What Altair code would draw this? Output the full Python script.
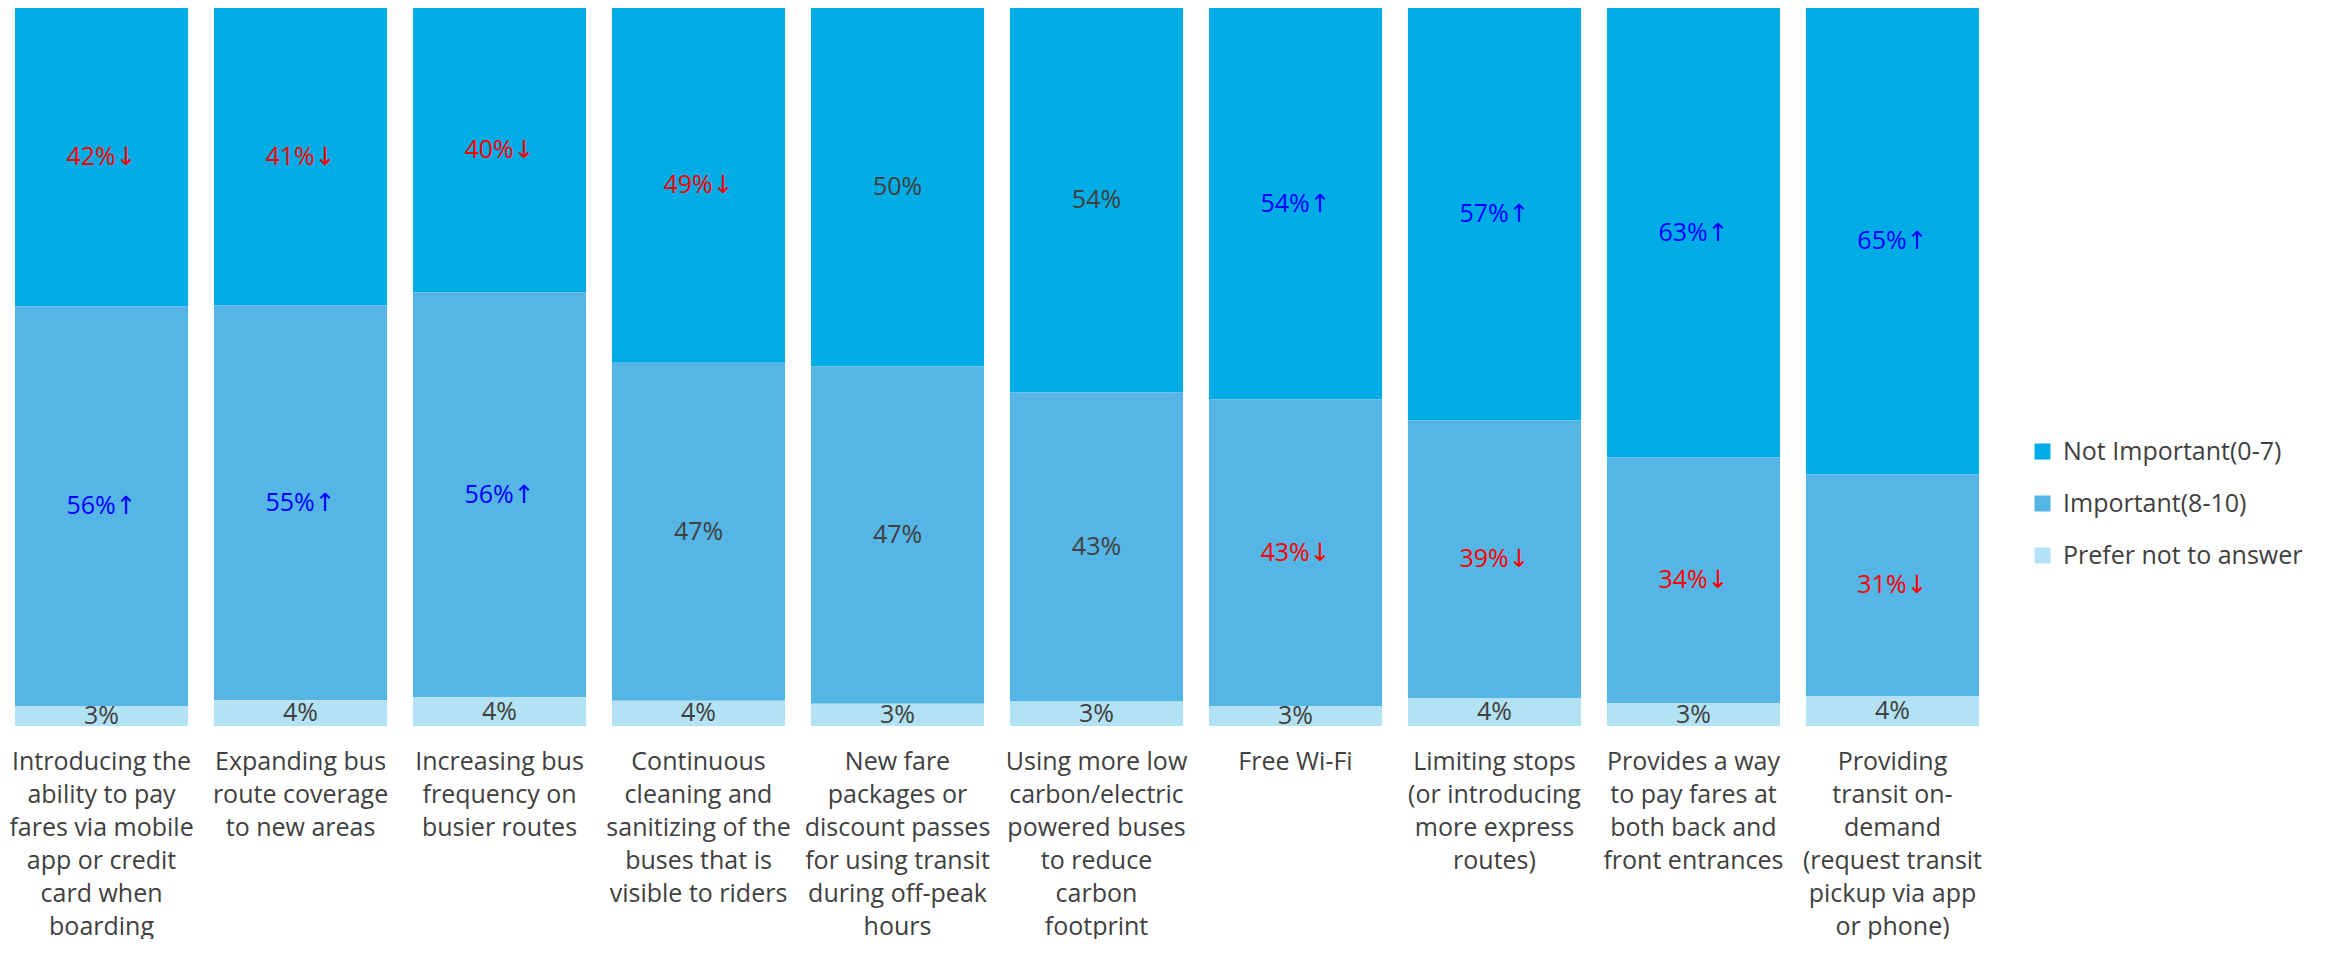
import altair as alt
import pandas as pd

label_lines = [
    ["Introducing the", "ability to pay", "fares via mobile", "app or credit", "card when", "boarding"],
    ["Expanding bus", "route coverage", "to new areas"],
    ["Increasing bus", "frequency on", "busier routes"],
    ["Continuous", "cleaning and", "sanitizing of the", "buses that is", "visible to riders"],
    ["New fare", "packages  or", "discount passes", "for using transit", "during off-peak", "hours"],
    ["Using more low", "carbon/electric", "powered buses", "to reduce", "carbon", "footprint"],
    ["Free Wi-Fi"],
    ["Limiting stops", "(or introducing", "more express", "routes)"],
    ["Provides a way", "to pay fares at", "both back and", "front entrances"],
    ["Providing", "transit on-", "demand", "(request transit", "pickup via app", "or phone)"],
]
series = ["Not Important(0-7)", "Important(8-10)", "Prefer not to answer"]
series_colors = ["#00ACE6", "#55B5E5", "#B3E2F5"]

# segment shares (percent)
not_important = [41.5, 41.4, 39.6, 49.4, 49.9, 53.5, 54.5, 57.4, 62.6, 65.0]
important = [55.7, 55.0, 56.3, 47.1, 47.0, 43.1, 42.7, 38.7, 34.2, 31.0]
prefer = [2.7, 3.6, 4.0, 3.5, 3.1, 3.4, 2.8, 3.9, 3.2, 4.1]

# printed percentages
not_important_pct = [42, 41, 40, 49, 50, 54, 54, 57, 63, 65]
important_pct = [56, 55, 56, 47, 47, 43, 43, 39, 34, 31]
prefer_pct = [3, 4, 4, 4, 3, 3, 3, 4, 3, 4]

not_important_trend = ["down", "down", "down", "down", "none", "none", "up", "up", "up", "up"]
important_trend = ["up", "up", "up", "none", "none", "none", "down", "down", "down", "down"]
prefer_trend = ["none"] * 10

arrow = {"up": "↑", "down": "↓", "none": ""}

rows = []
cat_labels = ["|".join(l) for l in label_lines]
for i, cat in enumerate(cat_labels):
    for s_idx, (name, vals, pcts, trends) in enumerate([
        (series[0], not_important, not_important_pct, not_important_trend),
        (series[1], important, important_pct, important_trend),
        (series[2], prefer, prefer_pct, prefer_trend),
    ]):
        rows.append({
            "cat": cat,
            "series": name,
            "value": vals[i],
            "order": 2 - s_idx,
            "trend": trends[i],
            "label": f"{pcts[i]}%{arrow[trends[i]]}",
        })
df = pd.DataFrame(rows)

base = alt.Chart(df).transform_stack(
    stack="value", as_=["y0", "y1"], groupby=["cat"],
    sort=[alt.SortField("order", order="ascending")], offset="normalize"
).transform_calculate(mid="(datum.y0 + datum.y1) / 2")

xenc = alt.X(
    "cat:N", sort=cat_labels, title=None,
    scale=alt.Scale(paddingInner=0.13, paddingOuter=0.025),
    axis=alt.Axis(
        labelAngle=0, domain=False, ticks=False, labelPadding=23,
        labelFont="Open Sans", labelFontSize=25,
        labelLineHeight=33, labelColor="#404040", labelLimit=0,
        labelExpr="split(datum.label, '|')",
    ),
)

bars = base.mark_bar().encode(
    x=xenc,
    y=alt.Y("y0:Q", scale=alt.Scale(domain=[0, 1]), axis=None),
    y2="y1:Q",
    color=alt.Color(
        "series:N", scale=alt.Scale(domain=series, range=series_colors),
        legend=alt.Legend(
            title=None, orient="none", legendX=2020, legendY=431,
            symbolType="square", symbolSize=256, symbolStrokeWidth=0,
            labelFont="Open Sans", labelFontSize=25, labelColor="#404040",
            rowPadding=26, labelOffset=8, labelLimit=0,
        ),
    ),
)

texts = base.mark_text(font="Open Sans, DejaVu Sans", fontSize=25, baseline="middle").encode(
    x=alt.X("cat:N", sort=cat_labels),
    y=alt.Y("mid:Q", scale=alt.Scale(domain=[0, 1])),
    text="label:N",
    color=alt.Color(
        "trend:N",
        scale=alt.Scale(domain=["up", "down", "none"], range=["#0000FF", "#FF0000", "#404040"]),
        legend=None,
    ),
)

chart = alt.layer(bars, texts).resolve_scale(color="independent").properties(
    width=1974, height=718, padding=0
).configure_view(strokeWidth=0)

chart.save("out.html", embed_options={"renderer": "svg", "actions": False})
